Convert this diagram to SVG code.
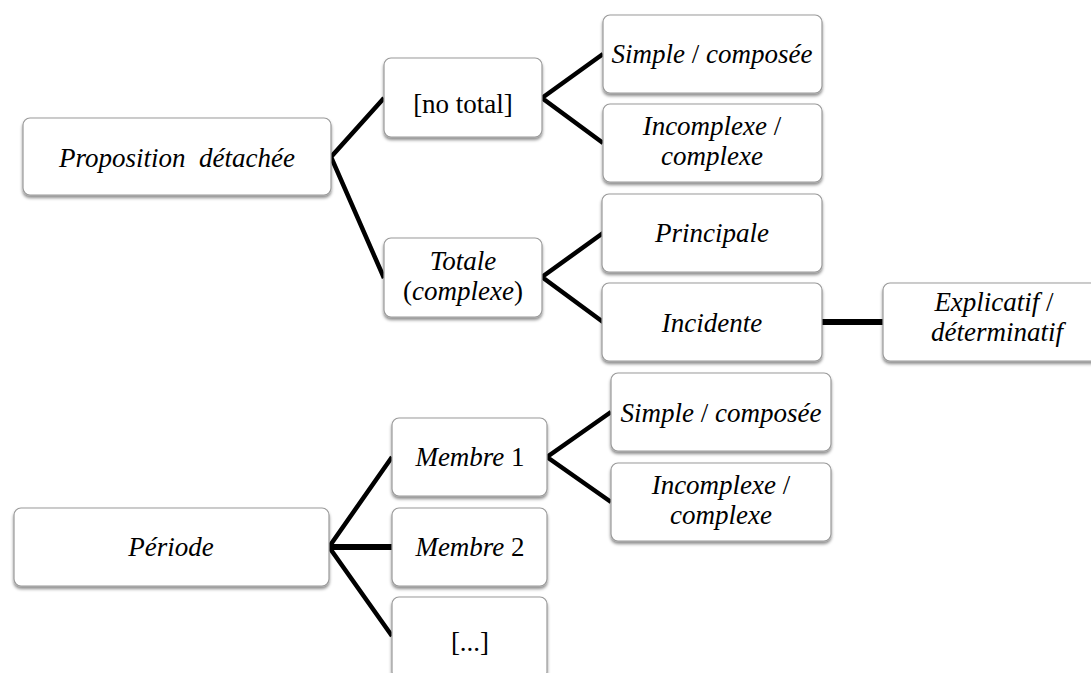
<svg xmlns="http://www.w3.org/2000/svg" width="1091" height="673" viewBox="0 0 1091 673">
<defs>
<filter id="sh" x="-10%" y="-10%" width="120%" height="130%">
<feDropShadow dx="0" dy="2.5" stdDeviation="1.5" flood-color="#000" flood-opacity="0.45"/>
</filter>
<style>
.box{fill:#fff;stroke:#9a9a9a;stroke-width:1.2;filter:url(#sh)}
.lbl{font-family:"Liberation Serif","Times New Roman",serif;font-size:27px;fill:#000;text-anchor:middle}
.i{font-style:italic}
.c{fill:none;stroke:#000;stroke-width:4.5}
.h{fill:none;stroke:#000;stroke-width:6}
</style>
</defs>
<rect width="1091" height="673" fill="#fff"/>
<g id="connectors">
<polyline class="c" points="384,98 331,157 384,278"/>
<polyline class="c" points="603,54 542,98 603,143"/>
<polyline class="c" points="603,233 542,277 603,322"/>
<line class="h" x1="822" y1="322" x2="883" y2="322"/>
<polyline class="c" points="392,457 329,547 392,636"/>
<line class="h" x1="329" y1="547" x2="392" y2="547"/>
<polyline class="c" points="611,412 547,457 611,502"/>
</g>
<g id="n-proposition"><rect class="box" x="23" y="118" width="308" height="77" rx="7"/><text class="lbl i" x="177" y="167" xml:space="preserve">Proposition  détachée</text></g>
<g id="n-nototal"><rect class="box" x="384" y="58" width="158" height="79" rx="7"/><text class="lbl" x="463" y="113">[no total]</text></g>
<g id="n-simple1"><rect class="box" x="603" y="15" width="219" height="78" rx="7"/><text class="lbl" x="712" y="63"><tspan class="i">Simple</tspan> / <tspan class="i">composée</tspan></text></g>
<g id="n-incomplexe1"><rect class="box" x="603" y="104" width="219" height="78" rx="7"/><text class="lbl" x="712" y="135"><tspan class="i">Incomplexe</tspan> /</text><text class="lbl i" x="712" y="165">complexe</text></g>
<g id="n-totale"><rect class="box" x="384" y="238" width="158" height="79" rx="7"/><text class="lbl i" x="463" y="270">Totale</text><text class="lbl" x="463" y="300">(<tspan class="i">complexe</tspan>)</text></g>
<g id="n-principale"><rect class="box" x="602" y="194" width="220" height="78" rx="7"/><text class="lbl i" x="712" y="242">Principale</text></g>
<g id="n-incidente"><rect class="box" x="602" y="283" width="220" height="78" rx="7"/><text class="lbl i" x="712" y="332">Incidente</text></g>
<g id="n-explicatif"><rect class="box" x="883" y="283" width="222" height="78" rx="7"/><text class="lbl" x="994" y="311"><tspan class="i">Explicatif</tspan> /</text><text class="lbl i" x="997" y="341">déterminatif</text></g>
<g id="n-periode"><rect class="box" x="14" y="508" width="315" height="78" rx="7"/><text class="lbl i" x="171" y="556">Période</text></g>
<g id="n-membre1"><rect class="box" x="392" y="418" width="155" height="78" rx="7"/><text class="lbl" x="470" y="466"><tspan class="i">Membre</tspan> 1</text></g>
<g id="n-membre2"><rect class="box" x="392" y="508" width="155" height="78" rx="7"/><text class="lbl" x="470" y="556"><tspan class="i">Membre</tspan> 2</text></g>
<g id="n-etc"><rect class="box" x="392" y="597" width="155" height="82" rx="7"/><text class="lbl" x="470" y="651">[...]</text></g>
<g id="n-simple2"><rect class="box" x="611" y="373" width="220" height="78" rx="7"/><text class="lbl" x="721" y="422"><tspan class="i">Simple</tspan> / <tspan class="i">composée</tspan></text></g>
<g id="n-incomplexe2"><rect class="box" x="611" y="463" width="220" height="78" rx="7"/><text class="lbl" x="721" y="494"><tspan class="i">Incomplexe</tspan> /</text><text class="lbl i" x="721" y="524">complexe</text></g>
</svg>
